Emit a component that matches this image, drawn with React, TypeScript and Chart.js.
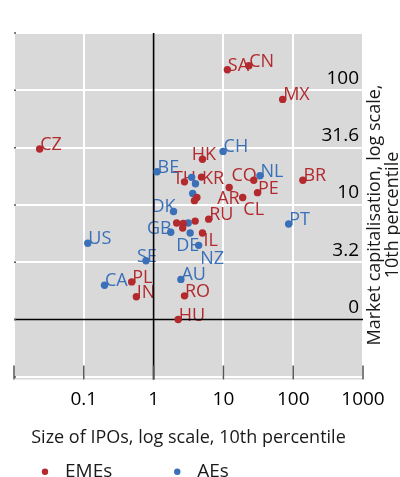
import React, { useEffect, useRef } from 'react';
import { Chart, registerables } from 'chart.js';

Chart.register(...registerables);

// Emerging market economies: IPO size vs market capitalisation (10th percentiles)
const emeCodes = ['CZ', 'SA', 'CN', 'MX', 'HK', 'TH', 'KR', 'CO', 'PE', 'BR', 'AR', 'CL', 'RU', 'IL', 'PL', 'IN', 'RO', 'HU', '', '', '', '', '', ''];
const emeIpoSize = [0.0233, 11.4, 23.1, 70.6, 5.01, 2.77, 4.85, 27.2, 30.8, 137.6, 12.1, 18.9, 6.15, 5.01, 0.485, 0.566, 2.77, 2.25, 4.17, 3.85, 2.14, 2.66, 2.61, 3.94];
const emeMarketCap = [30.8, 151, 164, 83.3, 25.0, 15.9, 17.5, 16.4, 12.8, 16.4, 14.2, 11.6, 7.52, 5.69, 2.13, 1.58, 1.61, 1.0, 11.6, 10.9, 6.95, 6.88, 6.29, 7.23];

// Advanced economies
const aeCodes = ['BE', 'CH', 'NL', 'PT', 'DK', 'GB', 'DE', 'NZ', 'US', 'SE', 'CA', 'AU', '', '', '', ''];
const aeIpoSize = [1.12, 9.9, 33.4, 86, 1.93, 1.76, 3.34, 4.42, 0.114, 0.778, 0.198, 2.46, 3.51, 3.98, 3.63, 3.13];
const aeMarketCap = [19.5, 29.3, 18.0, 6.81, 8.77, 5.77, 5.69, 4.44, 4.63, 3.26, 1.99, 2.24, 17.4, 15.3, 12.6, 6.95];

const seriesNames = ['EMEs', 'AEs'];

const xTickValues = [0.01, 0.1, 1, 10, 100, 1000];
const xTickLabels = ['', '0.1', '1', '10', '100', '1000'];
const yTickValues = [0.3162, 1, 3.162, 10, 31.62, 100, 316.2];
const yTickLabels = ['', '0', '3.2', '10', '31.6', '100', ''];

const xTitle = 'Size of IPOs, log scale, 10th percentile';
const yTitleLines = ['Market capitalisation, log scale,', '10th percentile'];

const FONT = "'Open Sans', 'Noto Sans', sans-serif";
const RED = '#b22a2e';
const BLUE = '#3a70b7';
const PANEL = '#d9d9d9';
const seriesColors = [RED, BLUE];
const seriesCodes = [emeCodes, aeCodes];

// Where each country code sits relative to its dot: [text align, dx, baseline dy]
const defaultPlacement: [CanvasTextAlign, number, number] = ['left', 0.5, 1];
const labelPlacement: Record<string, [CanvasTextAlign, number, number]> = {
  HK: ['center', 1.5, 1],
  TH: ['center', 0, 2.5],
  SE: ['center', 1, 1.3],
  KR: ['left', 0.5, 7],
  CO: ['right', 3, 0.7],
  DK: ['right', 2, 1],
  GB: ['right', 1, 1.7],
  AR: ['center', -0.7, 16.7],
  CL: ['left', 0.6, 17.5],
  DE: ['center', -2.5, 17.7],
  NZ: ['left', 1.5, 18.5],
  IL: ['left', 1, 12.7],
};

const gridColor = (ctx: any) => (ctx.tick && ctx.tick.value === 1 ? 'rgba(0,0,0,0)' : '#ffffff');

const panelPlugin = {
  id: 'panel',
  beforeDraw(chart: any) {
    const { ctx, chartArea: a } = chart;
    ctx.save();
    ctx.fillStyle = PANEL;
    ctx.fillRect(a.left, a.top, a.right - a.left, a.bottom - a.top);
    ctx.restore();
  },
};

const marksPlugin = {
  id: 'marks',
  beforeDatasetsDraw(chart: any) {
    const { ctx, chartArea: a } = chart;
    const xs = chart.scales.x;
    const ys = chart.scales.y;
    ctx.save();

    // country codes beside the dots
    ctx.font = `18px ${FONT}`;
    ctx.textBaseline = 'alphabetic';
    chart.data.datasets.forEach((ds: any, di: number) => {
      const meta = chart.getDatasetMeta(di);
      const codes = seriesCodes[di];
      ctx.fillStyle = seriesColors[di];
      meta.data.forEach((pt: any, i: number) => {
        const code = codes[i];
        if (!code) return;
        const [align, dx, dy] = labelPlacement[code] || defaultPlacement;
        ctx.textAlign = align;
        ctx.fillText(code, pt.x + dx, pt.y + dy);
      });
    });

    // axes through 1 on both log scales
    ctx.strokeStyle = '#000';
    ctx.lineWidth = 1.6;
    const x1 = xs.getPixelForValue(1);
    const y1 = ys.getPixelForValue(1);
    ctx.beginPath();
    ctx.moveTo(x1, a.top);
    ctx.lineTo(x1, a.bottom);
    ctx.moveTo(a.left, y1);
    ctx.lineTo(a.right, y1);
    ctx.stroke();

    // inward tick marks along the bottom and left edges
    ctx.strokeStyle = '#555';
    ctx.lineWidth = 1.5;
    ctx.beginPath();
    xTickValues.forEach((v) => {
      const px = xs.getPixelForValue(v);
      ctx.moveTo(px, a.bottom - 14);
      ctx.lineTo(px, a.bottom);
    });
    yTickValues.forEach((v) => {
      const py = ys.getPixelForValue(v);
      ctx.moveTo(a.left, py);
      ctx.lineTo(a.left + 2, py);
    });
    ctx.stroke();
    ctx.restore();
  },
  afterDraw(chart: any) {
    const { ctx, chartArea: a } = chart;
    ctx.save();

    // rotated title on the right-hand side
    ctx.fillStyle = '#1a1a1a';
    ctx.font = `18px ${FONT}`;
    ctx.textAlign = 'center';
    ctx.textBaseline = 'middle';
    ctx.translate(a.right + 12, 215);
    ctx.rotate(-Math.PI / 2);
    yTitleLines.forEach((line, i) => ctx.fillText(line, 0, i * 18));
    ctx.setTransform(1, 0, 0, 1, 0, 0);

    // legend
    ctx.font = `19px ${FONT}`;
    ctx.textAlign = 'left';
    ctx.textBaseline = 'alphabetic';
    let x = 45;
    const dotY = 471.7;
    chart.data.datasets.forEach((ds: any, di: number) => {
      ctx.fillStyle = seriesColors[di];
      ctx.beginPath();
      ctx.arc(x, dotY, 3.2, 0, Math.PI * 2);
      ctx.fill();
      ctx.fillStyle = '#1a1a1a';
      ctx.fillText(ds.label, x + 20, 477);
      x += 20 + ctx.measureText(ds.label).width + 65;
    });
    ctx.restore();
  },
};

export default function App() {
  const ref = useRef<HTMLCanvasElement>(null);

  useEffect(() => {
    const canvas = ref.current;
    if (!canvas) return;
    Chart.defaults.font.family = FONT;

    const datasets = [
      { x: emeIpoSize, y: emeMarketCap },
      { x: aeIpoSize, y: aeMarketCap },
    ].map((s, di) => ({
      label: seriesNames[di],
      data: s.x.map((xv, i) => ({ x: xv, y: s.y[i] })),
      backgroundColor: seriesColors[di],
      borderWidth: 0,
      pointRadius: 3.7,
      pointHoverRadius: 3.7,
    }));

    const chart = new Chart(canvas, {
      type: 'scatter',
      data: { datasets },
      options: {
        animation: false,
        responsive: true,
        maintainAspectRatio: false,
        events: [],
        layout: { padding: { left: 14, top: 33, right: 0, bottom: 28.5 } },
        plugins: {
          legend: { display: false },
          tooltip: { enabled: false },
        },
        scales: {
          x: {
            type: 'logarithmic',
            position: 'bottom',
            min: xTickValues[0],
            max: xTickValues[xTickValues.length - 1],
            afterBuildTicks: (s: any) => {
              s.ticks = xTickValues.map((v) => ({ value: v }));
            },
            ticks: {
              callback: (_v: any, i: number) => xTickLabels[i],
              font: { size: 19, family: FONT },
              color: '#000',
              padding: 8.5,
              maxRotation: 0,
              autoSkip: false,
            },
            grid: { color: gridColor, lineWidth: 2, drawTicks: false },
            border: { display: false },
            title: {
              display: true,
              text: xTitle,
              font: { size: 18, family: FONT },
              color: '#1a1a1a',
              padding: { top: 7.6, bottom: 0 },
            },
          },
          y: {
            type: 'logarithmic',
            position: 'right',
            min: yTickValues[0],
            max: yTickValues[yTickValues.length - 1],
            afterBuildTicks: (s: any) => {
              s.ticks = yTickValues.map((v) => ({ value: v }));
            },
            afterFit: (s: any) => {
              s.width = 37;
            },
            ticks: {
              callback: (_v: any, i: number) => yTickLabels[i],
              font: { size: 19, family: FONT },
              color: '#000',
              mirror: true,
              padding: -4,
              labelOffset: -12,
              autoSkip: false,
            },
            grid: { color: gridColor, lineWidth: 2, drawTicks: false },
            border: { display: false },
          },
        },
      },
      plugins: [panelPlugin, marksPlugin],
    } as any);

    return () => chart.destroy();
  }, []);

  return (
    <div style={{ position: 'absolute', left: 0, top: 0, width: 400, height: 477, background: '#fff' }}>
      <canvas ref={ref} />
    </div>
  );
}
